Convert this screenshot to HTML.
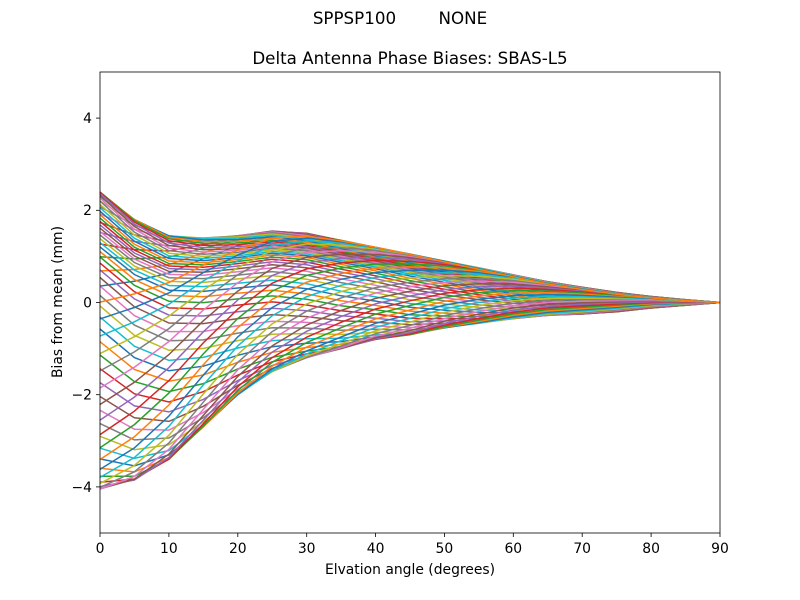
<!DOCTYPE html>
<html><head><meta charset="utf-8"><style>
body{margin:0;background:#fff;}
svg{display:block;font-family:"DejaVu Sans","Liberation Sans",sans-serif;}
text{white-space:pre;}
</style></head><body>
<svg id="s" width="800" height="600" xmlns="http://www.w3.org/2000/svg">
<rect width="800" height="600" fill="#fff"/>
<text x="400" y="24" font-size="16.7" text-anchor="middle" xml:space="preserve">SPPSP100        NONE</text>
<text x="410" y="64" font-size="16.7" text-anchor="middle">Delta Antenna Phase Biases: SBAS-L5</text>
<g id="lines"></g>
<rect x="100" y="72" width="620" height="461" fill="none" stroke="#000" stroke-width="0.8"/>
<g font-size="13.9" text-anchor="middle">
<text x="100" y="553">0</text><text x="168.9" y="553">10</text><text x="237.8" y="553">20</text>
<text x="306.7" y="553">30</text><text x="375.6" y="553">40</text><text x="444.4" y="553">50</text>
<text x="513.3" y="553">60</text><text x="582.2" y="553">70</text><text x="651.1" y="553">80</text><text x="720" y="553">90</text>
</g>
<g stroke="#000" stroke-width="0.8">
<line x1="100" y1="533" x2="100" y2="537"/><line x1="168.9" y1="533" x2="168.9" y2="537"/><line x1="237.8" y1="533" x2="237.8" y2="537"/>
<line x1="306.7" y1="533" x2="306.7" y2="537"/><line x1="375.6" y1="533" x2="375.6" y2="537"/><line x1="444.4" y1="533" x2="444.4" y2="537"/>
<line x1="513.3" y1="533" x2="513.3" y2="537"/><line x1="582.2" y1="533" x2="582.2" y2="537"/><line x1="651.1" y1="533" x2="651.1" y2="537"/><line x1="720" y1="533" x2="720" y2="537"/>
<line x1="96" y1="118.1" x2="100" y2="118.1"/><line x1="96" y1="210.3" x2="100" y2="210.3"/><line x1="96" y1="302.5" x2="100" y2="302.5"/>
<line x1="96" y1="394.7" x2="100" y2="394.7"/><line x1="96" y1="486.9" x2="100" y2="486.9"/>
</g>
<g font-size="13.9" text-anchor="end">
<text x="92" y="123">4</text><text x="92" y="215.2">2</text><text x="92" y="307.4">0</text>
<text x="92" y="399.6">−2</text><text x="92" y="491.8">−4</text>
</g>
<text x="410" y="574" font-size="13.9" text-anchor="middle">Elvation angle (degrees)</text>
<text x="62" y="302" font-size="13.9" text-anchor="middle" transform="rotate(-90 62 302)">Bias from mean (mm)</text>
</svg>
<script>
var lo=[-4.05,-3.85,-3.4,-2.7,-2.0,-1.5,-1.2,-1.0,-0.8,-0.7,-0.55,-0.45,-0.35,-0.28,-0.25,-0.2,-0.12,-0.06,0];
var hi=[2.4,1.8,1.45,1.4,1.45,1.55,1.5,1.35,1.2,1.05,0.9,0.75,0.6,0.45,0.33,0.22,0.13,0.06,0];
var cols=["#1f77b4","#ff7f0e","#2ca02c","#d62728","#9467bd","#8c564b","#e377c2","#7f7f7f","#bcbd22","#17becf"];
function f(ph){return 0.8*Math.sin(ph)+0.2*Math.sin(2*ph+1);}
var g=document.getElementById("lines"),h="",P=[];
for(var a=0;a<72;a++)P.push([]);
for(var i=0;i<19;i++){
 var e=i*5,vals=[],mn=1e9,mx=-1e9;
 for(var a=0;a<72;a++){var ph=a*5*Math.PI/180+e*Math.PI/180*1.6;var s=f(ph);vals.push(s);mn=Math.min(mn,s);mx=Math.max(mx,s);}
 for(var a=0;a<72;a++){
  var t=(vals[a]-mn)/(mx-mn);var v=lo[i]+t*(hi[i]-lo[i]);
  P[a].push((100+e*620/90).toFixed(1)+","+(302.5-v*46.1).toFixed(1));
 }
}
for(var a=0;a<72;a++)h+='<polyline fill="none" stroke-width="1.5" stroke="'+cols[a%10]+'" points="'+P[a].join(" ")+'"/>';
g.innerHTML=h;
</script>
</body></html>
